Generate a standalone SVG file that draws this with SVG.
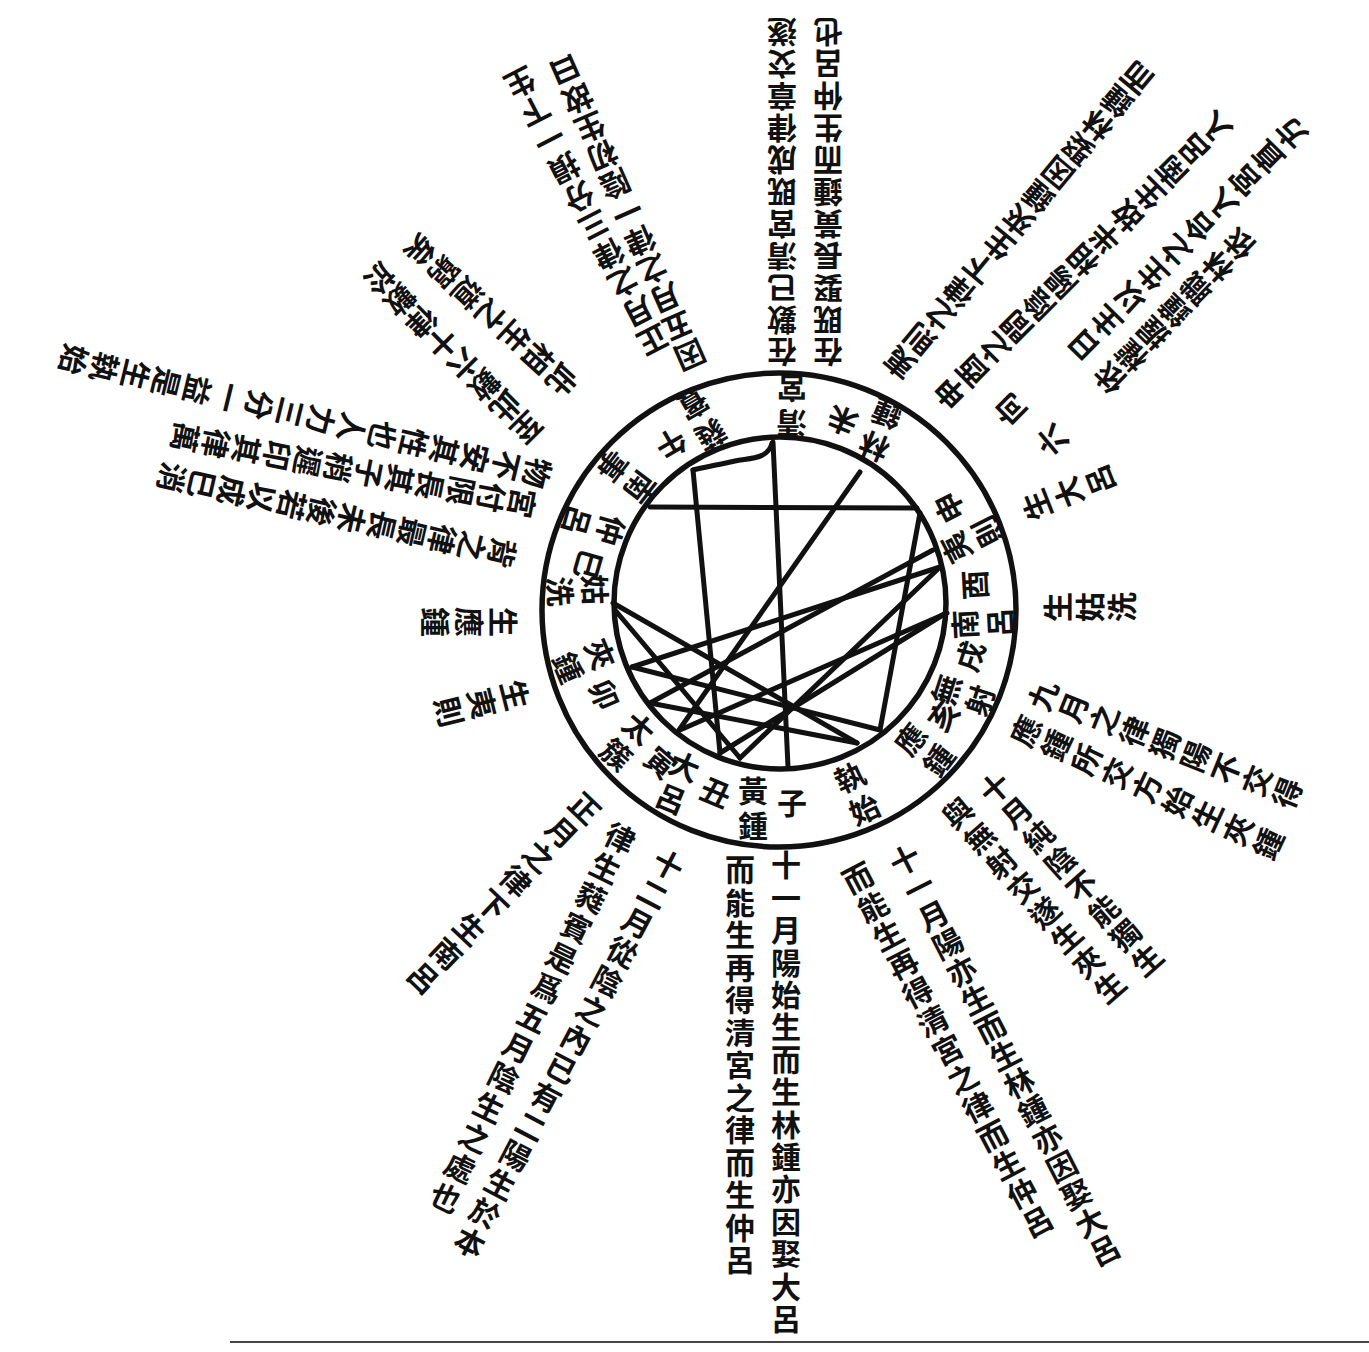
<svg xmlns="http://www.w3.org/2000/svg" width="1369" height="1352" viewBox="0 0 1369 1352">
<style>
.t{font-family:"Noto Sans CJK TC","Noto Sans CJK SC","Noto Sans CJK JP",sans-serif;font-size:30px;font-weight:700;fill:#111;writing-mode:vertical-rl;letter-spacing:2.4px}
.rl{font-family:"Noto Sans CJK TC","Noto Sans CJK SC","Noto Sans CJK JP",sans-serif;font-size:30px;font-weight:700;fill:#111;writing-mode:vertical-rl;letter-spacing:5px}
.ring{fill:none;stroke:#111;stroke-width:5.5}
.ln{fill:none;stroke:#111;stroke-width:5;stroke-linecap:round}
</style>
<rect width="1369" height="1352" fill="#fff"/>
<g id="rings">
<circle class="ring" cx="779" cy="610" r="237"/>
<circle class="ring" cx="780" cy="603" r="166"/>
</g>
<g id="connectors">
<path class="ln" d="M773 442 L788 767"/>
<path class="ln" d="M772 443 C768 460 748 458 735 461 S700 468 693 470"/>
<path class="ln" d="M693 470 L720 753"/>
<path class="ln" d="M650 507 L917 508"/>
<path class="ln" d="M920 513 L880 730"/>
<path class="ln" d="M860 472 L679 730"/>
<path class="ln" d="M613 603 L857 743"/>
<path class="ln" d="M615 610 L740 758"/>
<path class="ln" d="M933 550 L650 703"/>
<path class="ln" d="M940 567 L632 667"/>
<path class="ln" d="M947 613 L680 730"/>
<path class="ln" d="M632 667 L880 730"/>
<path class="ln" d="M650 703 L857 743"/>
<path class="ln" d="M720 753 L946 613"/>
<path class="ln" d="M740 758 L940 567"/>
</g>
<g id="labels">
<g id="n-zi" transform="rotate(0 780 607)"><text class="rl" x="753" y="776">黃鍾</text><text class="rl" x="792" y="788">子</text></g>
<g id="n-chou" transform="rotate(22.6 780 607)"><text class="rl" x="753" y="776">大呂</text><text class="rl" x="792" y="788">丑</text></g>
<g id="n-yin" transform="rotate(41 780 607)"><text class="rl" x="753" y="776">太簇</text><text class="rl" x="792" y="788">寅</text></g>
<g id="n-mao" transform="rotate(67 780 607)"><text class="rl" x="753" y="776">夾鍾</text><text class="rl" x="792" y="788">卯</text></g>
<g id="n-chen" transform="rotate(87 780 607)"><text class="rl" x="753" y="776">姑洗</text></g>
<g id="n-si" transform="rotate(106 780 607)"><text class="rl" x="753" y="776">仲呂</text><text class="rl" x="792" y="788">巳</text></g>
<g id="n-nanshi" transform="rotate(127.5 780 607)"><text class="rl" x="770" y="776">南事</text></g>
<g id="n-wu" transform="rotate(149.8 780 607)"><text class="rl" x="753" y="776">蕤賓</text><text class="rl" x="792" y="788">午</text></g>
<g id="n-qinggong" transform="rotate(180.5 780 607)"><text class="rl" x="770" y="776">清宮</text></g>
<g id="n-wei" transform="rotate(202 780 607)"><text class="rl" x="753" y="776">林鍾</text><text class="rl" x="792" y="788">未</text></g>
<g id="n-shen" transform="rotate(243 780 607)"><text class="rl" x="753" y="776">夷則</text><text class="rl" x="792" y="788">申</text></g>
<g id="n-you" transform="rotate(267 780 607)"><text class="rl" x="753" y="776">南呂</text><text class="rl" x="792" y="788">酉</text></g>
<g id="n-xu" transform="rotate(-72 780 607)"><text class="rl" x="753" y="776">無射</text><text class="rl" x="792" y="788">戌</text></g>
<g id="n-hai" transform="rotate(-53 780 607)"><text class="rl" x="753" y="776">應鍾</text><text class="rl" x="792" y="788">亥</text></g>
<g id="n-zhishi" transform="rotate(-25.3 780 607)"><text class="rl" x="770" y="776">執始</text></g>
</g>
<g id="notes">
<g id="t-bottom1" transform="translate(786 865)"><text class="t" x="0" y="-15" style="letter-spacing:2.4px">十一月陽始生而生林鍾亦因娶大呂</text></g>
<g id="t-bottom2" transform="translate(740 870)"><text class="t" x="0" y="-15" style="letter-spacing:2.5px">而能生再得清宮之律而生仲呂</text></g>
<g id="t-lr1" transform="translate(905 860) rotate(-27.1)"><text class="t" x="0" y="-15" style="letter-spacing:1.3px">十一月陽亦生而生林鍾亦因娶大呂</text></g>
<g id="t-lr2" transform="translate(858 878) rotate(-27.6)"><text class="t" x="0" y="-15" style="letter-spacing:2.3px">而能生再得清宮之律而生仲呂</text></g>
<g id="t-lr3" transform="translate(995 788) rotate(-41.5)"><text class="t" x="0" y="-15" style="letter-spacing:2.8px">十月純陰不能獨生</text></g>
<g id="t-lr4" transform="translate(958 813) rotate(-41.1)"><text class="t" x="0" y="-15" style="letter-spacing:3px">與無射交遂生夾生</text></g>
<g id="t-r1" transform="translate(1043 695) rotate(-68.1)"><text class="t" x="0" y="-15" style="letter-spacing:2.9px">九月之律獨陽不交得</text></g>
<g id="t-r2" transform="translate(1026 731) rotate(-65)"><text class="t" x="0" y="-15" style="letter-spacing:3.4px">應鍾所交方始生夾鍾</text></g>
<g id="t-gx" transform="translate(1058 607) rotate(-90)"><text class="t" x="0" y="-15" style="letter-spacing:2px">生姑洗</text></g>
<g id="t-dl" transform="translate(1037 505) rotate(-111.6)"><text class="t" x="0" y="-15" style="letter-spacing:4px">生大呂</text></g>
<g id="t-ll1" transform="translate(668 865) rotate(27.7)"><text class="t" x="0" y="-15" style="letter-spacing:2.8px">十二月從陰之內已有二陽生於本</text></g>
<g id="t-ll2" transform="translate(620 838) rotate(25.9)"><text class="t" x="0" y="-15" style="letter-spacing:3.3px">律生蕤賓是爲五月陰生之處也</text></g>
<g id="t-ll3" transform="translate(585 808) rotate(43.6)"><text class="t" x="0" y="-15" style="letter-spacing:3.5px">正月之律下生南呂</text></g>
<g id="t-yz" transform="translate(503 622) rotate(90)"><text class="t" x="0" y="-15" style="letter-spacing:4px">生應鍾</text></g>
<g id="t-yiz" transform="translate(515 695) rotate(75.8)"><text class="t" x="0" y="-15" style="letter-spacing:4px">生夷則</text></g>
<g id="t-c1" transform="translate(537 473) rotate(103.75)"><text class="t" x="0" y="-15" style="letter-spacing:1.8px">物不安其性也人力三分一益是生執始</text></g>
<g id="t-c2" transform="translate(522 503) rotate(101)"><text class="t" x="0" y="-15" style="letter-spacing:1.2px">宮付限長其子稍遲印其律萬</text></g>
<g id="t-c3" transform="translate(502 553) rotate(102.9)"><text class="t" x="0" y="-15" style="letter-spacing:0.8px">背之律最長未後若以成巳消</text></g>
<g id="t-b1" transform="translate(562 380) rotate(132.5)"><text class="t" x="0" y="-15" style="letter-spacing:2px">此相生之道窮矣</text></g>
<g id="t-b2" transform="translate(527 428) rotate(135.2)"><text class="t" x="0" y="-15" style="letter-spacing:0px">至此數六十律數於</text></g>
<g id="t-a1" transform="translate(690 355) rotate(156.3)"><text class="t" x="0" y="-15" style="letter-spacing:1.1px">因五月之律一陰初生故曰</text></g>
<g id="t-a2" transform="translate(653 340) rotate(152.7)"><text class="t" x="0" y="-15" style="letter-spacing:2.2px">正月之律三分損一下生</text></g>
<g id="t-top1" transform="translate(782 352) rotate(180)"><text class="t" x="0" y="-15" style="letter-spacing:2px">在數已清宮既成律章交遂</text></g>
<g id="t-top2" transform="translate(828 352) rotate(180)"><text class="t" x="0" y="-15" style="letter-spacing:2px">在既娶長黃鍾而生仲呂也</text></g>
<g id="t-ur1" transform="translate(900 363) rotate(-140.3)"><text class="t" x="0" y="-15" style="letter-spacing:0.9px">夷則之律下生夾鍾因娶林鍾而</text></g>
<g id="t-ur2" transform="translate(950 393) rotate(-135)"><text class="t" x="0" y="-15" style="letter-spacing:1.3px">申酉之間陰陽相半故生南呂入</text></g>
<g id="t-ur3" transform="translate(1083 345) rotate(-135.5)"><text class="t" x="0" y="-15" style="letter-spacing:3px">日主以生之合入宮直方</text></g>
<g id="t-ur4" transform="translate(1110 378) rotate(-136)"><text class="t" x="0" y="-15" style="letter-spacing:1px">依權握鐘職林依</text></g>
<g id="t-xiang" transform="translate(1010 410) rotate(-135)"><text class="t" x="0" y="-15">向</text></g>
<g id="t-liu" transform="translate(1052 440) rotate(-130)"><text class="t" x="0" y="-15">六</text></g>
</g>
<line x1="230" y1="1342" x2="1369" y2="1342" stroke="#444" stroke-width="2"/>
</svg>
